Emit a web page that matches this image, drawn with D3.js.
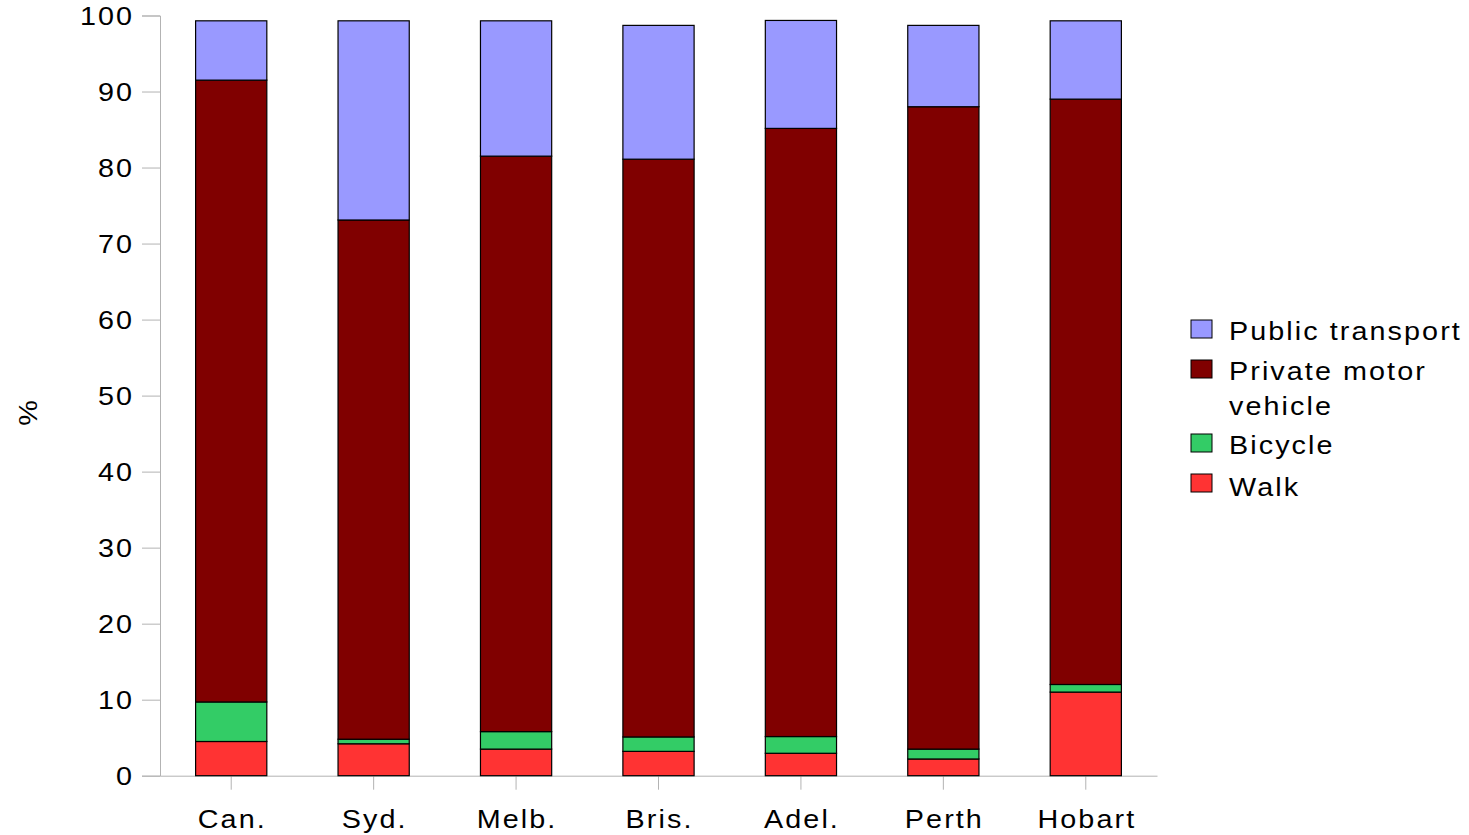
<!DOCTYPE html>
<html><head><meta charset="utf-8">
<script src="https://cdn.jsdelivr.net/npm/d3@7"></script>
<style>body{margin:0;background:#fff;} text{font-family:"Liberation Sans",Arial,sans-serif;fill:#000;}</style>
</head><body>
<svg id="c" width="1469" height="835"></svg>
<script>
const cities = ["Can.","Syd.","Melb.","Bris.","Adel.","Perth","Hobart"];
const walk = [4.5, 4.2, 3.5, 3.2, 2.95, 2.2, 11.0];
const bicycle = [5.2, 0.6, 2.3, 1.9, 2.2, 1.3, 1.0];
const privateMotor = [81.8, 68.3, 75.7, 76.0, 80.0, 84.5, 77.0];
const publicTransport = [7.8, 26.2, 17.8, 17.6, 14.2, 10.7, 10.3];
const yTicks = [0,10,20,30,40,50,60,70,80,90,100];
const seriesNames = ["Walk","Bicycle","Private motor vehicle","Public transport"];
const seriesColors = ["#ff3333","#33cc66","#800000","#9999ff"];

const FS = "25px", LS = 1.8, SX = 1.15;
const svg = d3.select("#c");
const x = d3.scaleBand().domain(cities).range([160,1157]).paddingInner(0.5).paddingOuter(0.25);
const y = d3.scaleLinear().domain([0,100]).range([775.7,15.5]);

const rows = cities.map((c,i)=>({city:c, "Walk":walk[i], "Bicycle":bicycle[i], "Private motor vehicle":privateMotor[i], "Public transport":publicTransport[i]}));
const stack = d3.stack().keys(seriesNames)(rows);

function stretch(sel, tx, ty, dx){
  sel.style("font-size",FS).style("letter-spacing",LS+"px")
    .attr("x",dx||0).attr("y",0)
    .attr("transform",`translate(${tx},${ty}) scale(${SX},1)`);
}

// axes
const gy = svg.append("g").attr("transform","translate(160,0)")
  .call(d3.axisLeft(y).tickValues(yTicks).tickSize(18).tickPadding(10));
gy.select(".domain").attr("stroke","#b3b3b3");
gy.selectAll(".tick line").attr("stroke","#b3b3b3");
gy.selectAll(".tick text").call(stretch,-28,0,LS).attr("dy","0.35em");

const gx = svg.append("g").attr("transform","translate(0,775.7)")
  .call(d3.axisBottom(x).tickSize(14).tickPadding(0).tickSizeOuter(0));
gx.select(".domain").attr("stroke","#b3b3b3");
gx.selectAll(".tick line").attr("stroke","#b3b3b3");
gx.selectAll(".tick text").call(stretch,0,52,LS/2).attr("dy","0");

// bars
svg.append("g").selectAll("g").data(stack).join("g")
  .attr("fill",(d,i)=>seriesColors[i])
  .selectAll("rect").data(d=>d).join("rect")
  .attr("x",d=>x(d.data.city)).attr("width",x.bandwidth())
  .attr("y",d=>y(d[1])).attr("height",d=>y(d[0])-y(d[1]))
  .attr("stroke","#000").attr("stroke-width",1.2);

// y label
svg.append("text").attr("transform","translate(37,413) rotate(-90) scale(1.15,1)")
  .attr("text-anchor","middle").style("font-size",FS).text("%");

// legend
const leg = [
  {i:3, sy:320, lines:["Public transport"], ty:[331]},
  {i:2, sy:360, lines:["Private motor","vehicle"], ty:[371,406]},
  {i:1, sy:434, lines:["Bicycle"], ty:[445]},
  {i:0, sy:474, lines:["Walk"], ty:[487]}
];
const lg = svg.append("g");
leg.forEach(l=>{
  lg.append("rect").attr("x",1191).attr("y",l.sy).attr("width",21).attr("height",18)
    .attr("fill",seriesColors[l.i]).attr("stroke","#000").attr("stroke-width",1);
  l.lines.forEach((t,k)=>{
    lg.append("text").text(t).call(stretch,1229,l.ty[k],0).attr("dy","0.35em");
  });
});
</script>
</body></html>
